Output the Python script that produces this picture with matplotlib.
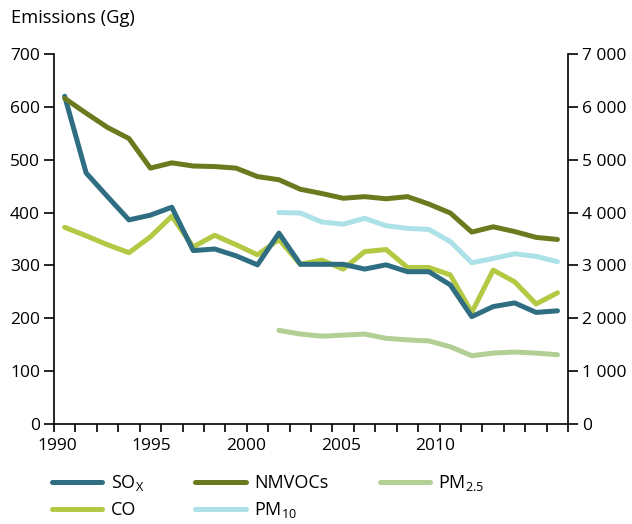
import matplotlib
matplotlib.use("Agg")
import matplotlib.pyplot as plt
from matplotlib.ticker import FuncFormatter, FixedLocator

plt.rcParams['font.family'] = ['Open Sans', 'DejaVu Sans']
plt.rcParams['mathtext.fontset'] = 'custom'
plt.rcParams['mathtext.rm'] = 'Open Sans'
plt.rcParams['font.size'] = 12.5

years = list(range(1990, 2014))
years_pm = list(range(2000, 2014))

sox = [620, 475, 430, 386, 395, 410, 328, 331, 318, 301, 361, 302,
       302, 302, 293, 301, 288, 288, 263, 203, 222, 229, 211, 214]
nmvocs = [616, 588, 561, 540, 484, 494, 488, 487, 484, 468, 462, 444,
          436, 427, 430, 426, 430, 416, 399, 363, 373, 364, 353, 349]
co = [3720, 3560, 3390, 3240, 3540, 3930, 3350, 3570, 3390, 3200, 3490, 3020,
      3100, 2930, 3260, 3300, 2960, 2960, 2820, 2110, 2910, 2690, 2270, 2480]
pm10 = [400, 399, 382, 378, 389, 375, 370, 368, 345, 305, 313, 322, 317, 307]
pm25 = [177, 170, 166, 168, 170, 162, 159, 157, 146, 129, 134, 136, 134, 131]

year_labels = ['1990', '1995', '2000', '2005', '2010']
label_pos = [1989.64, 1994.06, 1998.47, 2002.9, 2007.3]

c_sox = '#2f6e82'
c_nmv = '#6b7a1e'
c_pm25 = '#b2cf95'
c_co = '#b3c943'
c_pm10 = '#ade1e8'

fig = plt.figure(figsize=(6.32, 5.24), dpi=100)
ax = fig.add_axes([0.0854, 0.191, 0.8136, 0.706])
ax2 = ax.twinx()

lw = 3.6
l_pm25, = ax.plot(years_pm, pm25, color=c_pm25, lw=lw, solid_capstyle='round')
l_pm10, = ax.plot(years_pm, pm10, color=c_pm10, lw=lw, solid_capstyle='round')
l_co, = ax2.plot(years, co, color=c_co, lw=lw, solid_capstyle='round')
l_sox, = ax.plot(years, sox, color=c_sox, lw=lw, solid_capstyle='round')
l_nmv, = ax.plot(years, nmvocs, color=c_nmv, lw=lw, solid_capstyle='round')
# CO sits on the right axis but is drawn under the SOx line in the reference
ax2.set_zorder(0)
ax.set_zorder(1)
ax.patch.set_visible(False)

ax.set_xlim(1989.5, 2013.5)
ax.set_ylim(0, 700)
ax2.set_ylim(0, 7000)
ax.set_yticks(range(0, 701, 100))
ax2.set_yticks(range(0, 7001, 1000))
ax2.yaxis.set_major_formatter(FuncFormatter(lambda v, p: f"{int(v):,}".replace(',', ' ')))

ax.xaxis.set_major_locator(FixedLocator(label_pos))
ax.set_xticklabels(year_labels)
ax.xaxis.set_minor_locator(FixedLocator([1989.5 + k for k in range(25)]))
ax.tick_params(axis='x', which='major', length=0, pad=10)
ax.tick_params(axis='x', which='minor', length=6, width=1.2, direction='out')
ax.tick_params(axis='y', length=7, width=1.2, pad=3)
ax2.tick_params(axis='y', length=7, width=1.2, pad=3)

for a in (ax, ax2):
    a.spines['top'].set_visible(False)
    for s in a.spines.values():
        s.set_linewidth(1.2)
ax.spines['right'].set_visible(False)
ax2.spines['left'].set_visible(False)
ax2.spines['bottom'].set_visible(False)

fig.text(0.017, 0.966, 'Emissions (Gg)', ha='left', va='center', fontsize=13.2)

handles = [l_sox, l_co, l_nmv, l_pm10, l_pm25]
labels = [r'SO$_\mathregular{X}$', 'CO', 'NMVOCs', r'PM$_\mathregular{10}$', r'PM$_\mathregular{2.5}$']
fig.legend(handles, labels, ncol=3, loc='upper left', bbox_to_anchor=(0.082, 0.097),
           frameon=False, handlelength=2.8, handletextpad=0.45, columnspacing=2.85,
           labelspacing=0.45, borderaxespad=0, borderpad=0, fontsize=13)

fig.savefig('out.png', dpi=100)
